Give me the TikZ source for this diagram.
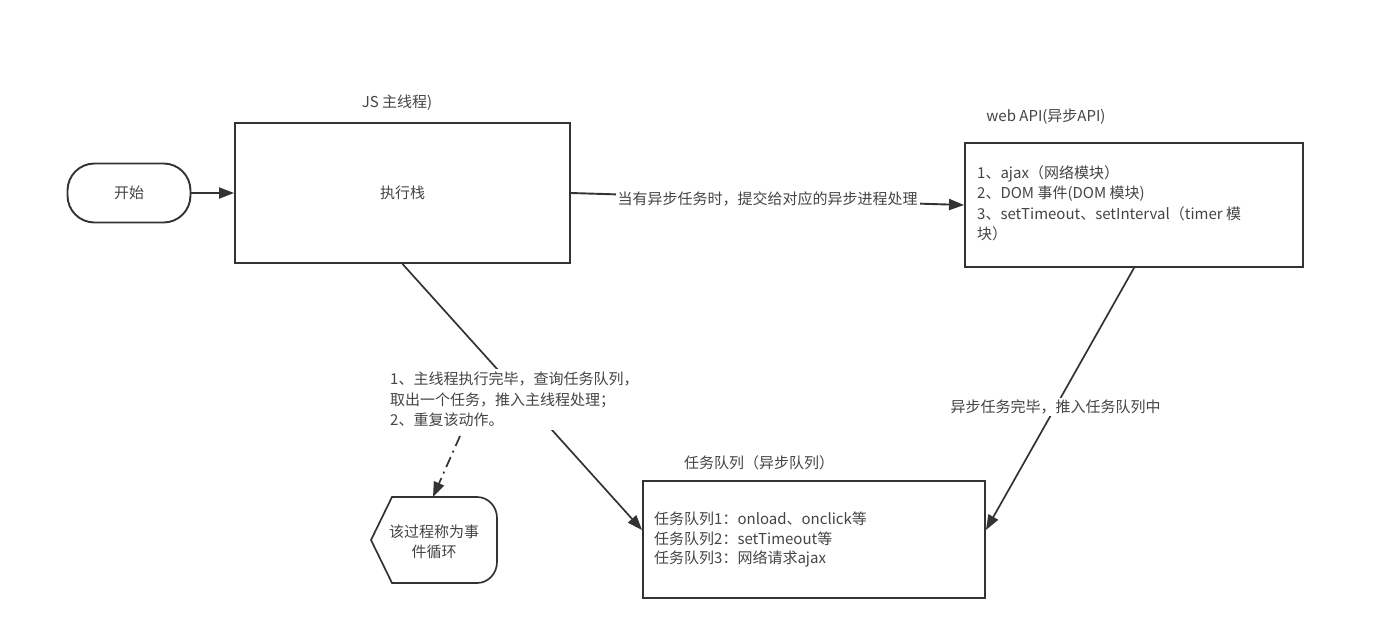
\documentclass[tikz,border=0pt]{standalone}
\usepackage{fontspec}
\setmainfont{Noto Sans CJK SC}
\usetikzlibrary{arrows.meta}
\definecolor{ln}{HTML}{333333}
\definecolor{tx}{HTML}{444444}
\tikzset{
  box/.style={draw=ln, line width=1.9pt, text=tx, font=\fontsize{15}{20.5}\selectfont},
  lbl/.style={text=tx, font=\fontsize{15}{20.5}\selectfont, inner sep=1pt},
  tip/.style={-{Triangle[length=15pt,width=11pt]}},
  conn/.style={draw=ln, line width=1.9pt, tip},
  plain/.style={draw=ln, line width=1.7pt},
}
\begin{document}
\begin{tikzpicture}[x=1pt,y=-1pt]
\useasboundingbox (0,0) rectangle (1378,630);
% nodes
\node[box, rounded corners=27pt, minimum width=123pt, minimum height=59pt] (start) at (129,193) {开始};
\node[box, minimum width=335pt, minimum height=140pt] (main) at (402.5,193) {执行栈};
\node[lbl] (jslabel) at (397,103) {JS 主线程)};
\node[box, minimum width=338pt, minimum height=124pt] (web) at (1134,205) {};
\node[lbl] (weblabel) at (1046,117) {web API(异步API)};
\node[lbl, anchor=north west, align=left] (webtext) at (976,164) {1、ajax（网络模块）\\2、DOM 事件(DOM 模块)\\3、setTimeout、setInterval（timer 模\\块）};
\node[box, minimum width=342pt, minimum height=117pt] (queue) at (814,539.5) {};
\node[lbl] (queuelabel) at (759,463) {任务队列（异步队列）};
\node[lbl, anchor=north west, align=left, font=\fontsize{15}{19.5}\selectfont] (queuetext) at (653,511) {任务队列1：onload、onclick等\\任务队列2：setTimeout等\\任务队列3：网络请求ajax};
% display shape
\draw[plain] (371,540) -- (392,497) -- (477,497) to[out=0,in=90] (497,518) -- (497,562) to[out=-90,in=0] (477,583) -- (392,583) -- cycle;
\node[lbl, align=center] (loop) at (434,542) {该过程称为事\\件循环};
\coordinate (looptop) at (433,497);
% connectors
\draw[conn] (start.east) -- (main.west);
\draw[conn] (main.east) -- (web.west) node[lbl, fill=white, pos=0.5, inner sep=2pt] (asynclabel) {当有异步任务时，提交给对应的异步进程处理};
\draw[plain, tip] (main.south) -- ([yshift=9.5pt]queue.west);
\node[lbl, fill=white, anchor=north west, align=left, inner sep=3pt] (looplabel) at (387,369) {1、主线程执行完毕，查询任务队列，\\取出一个任务，推入主线程处理；\\2、重复该动作。};
\coordinate (loopfrom) at (460,436);
\draw[plain, dash pattern=on 11pt off 5pt on 2pt off 5pt, tip] (loopfrom) -- (looptop);
\draw[plain, tip] (web.south) -- ([yshift=9.5pt]queue.east) node[lbl, fill=white, pos=0.53, inner sep=2pt] (donelabel) {异步任务完毕，推入任务队列中};
\end{tikzpicture}
\end{document}
